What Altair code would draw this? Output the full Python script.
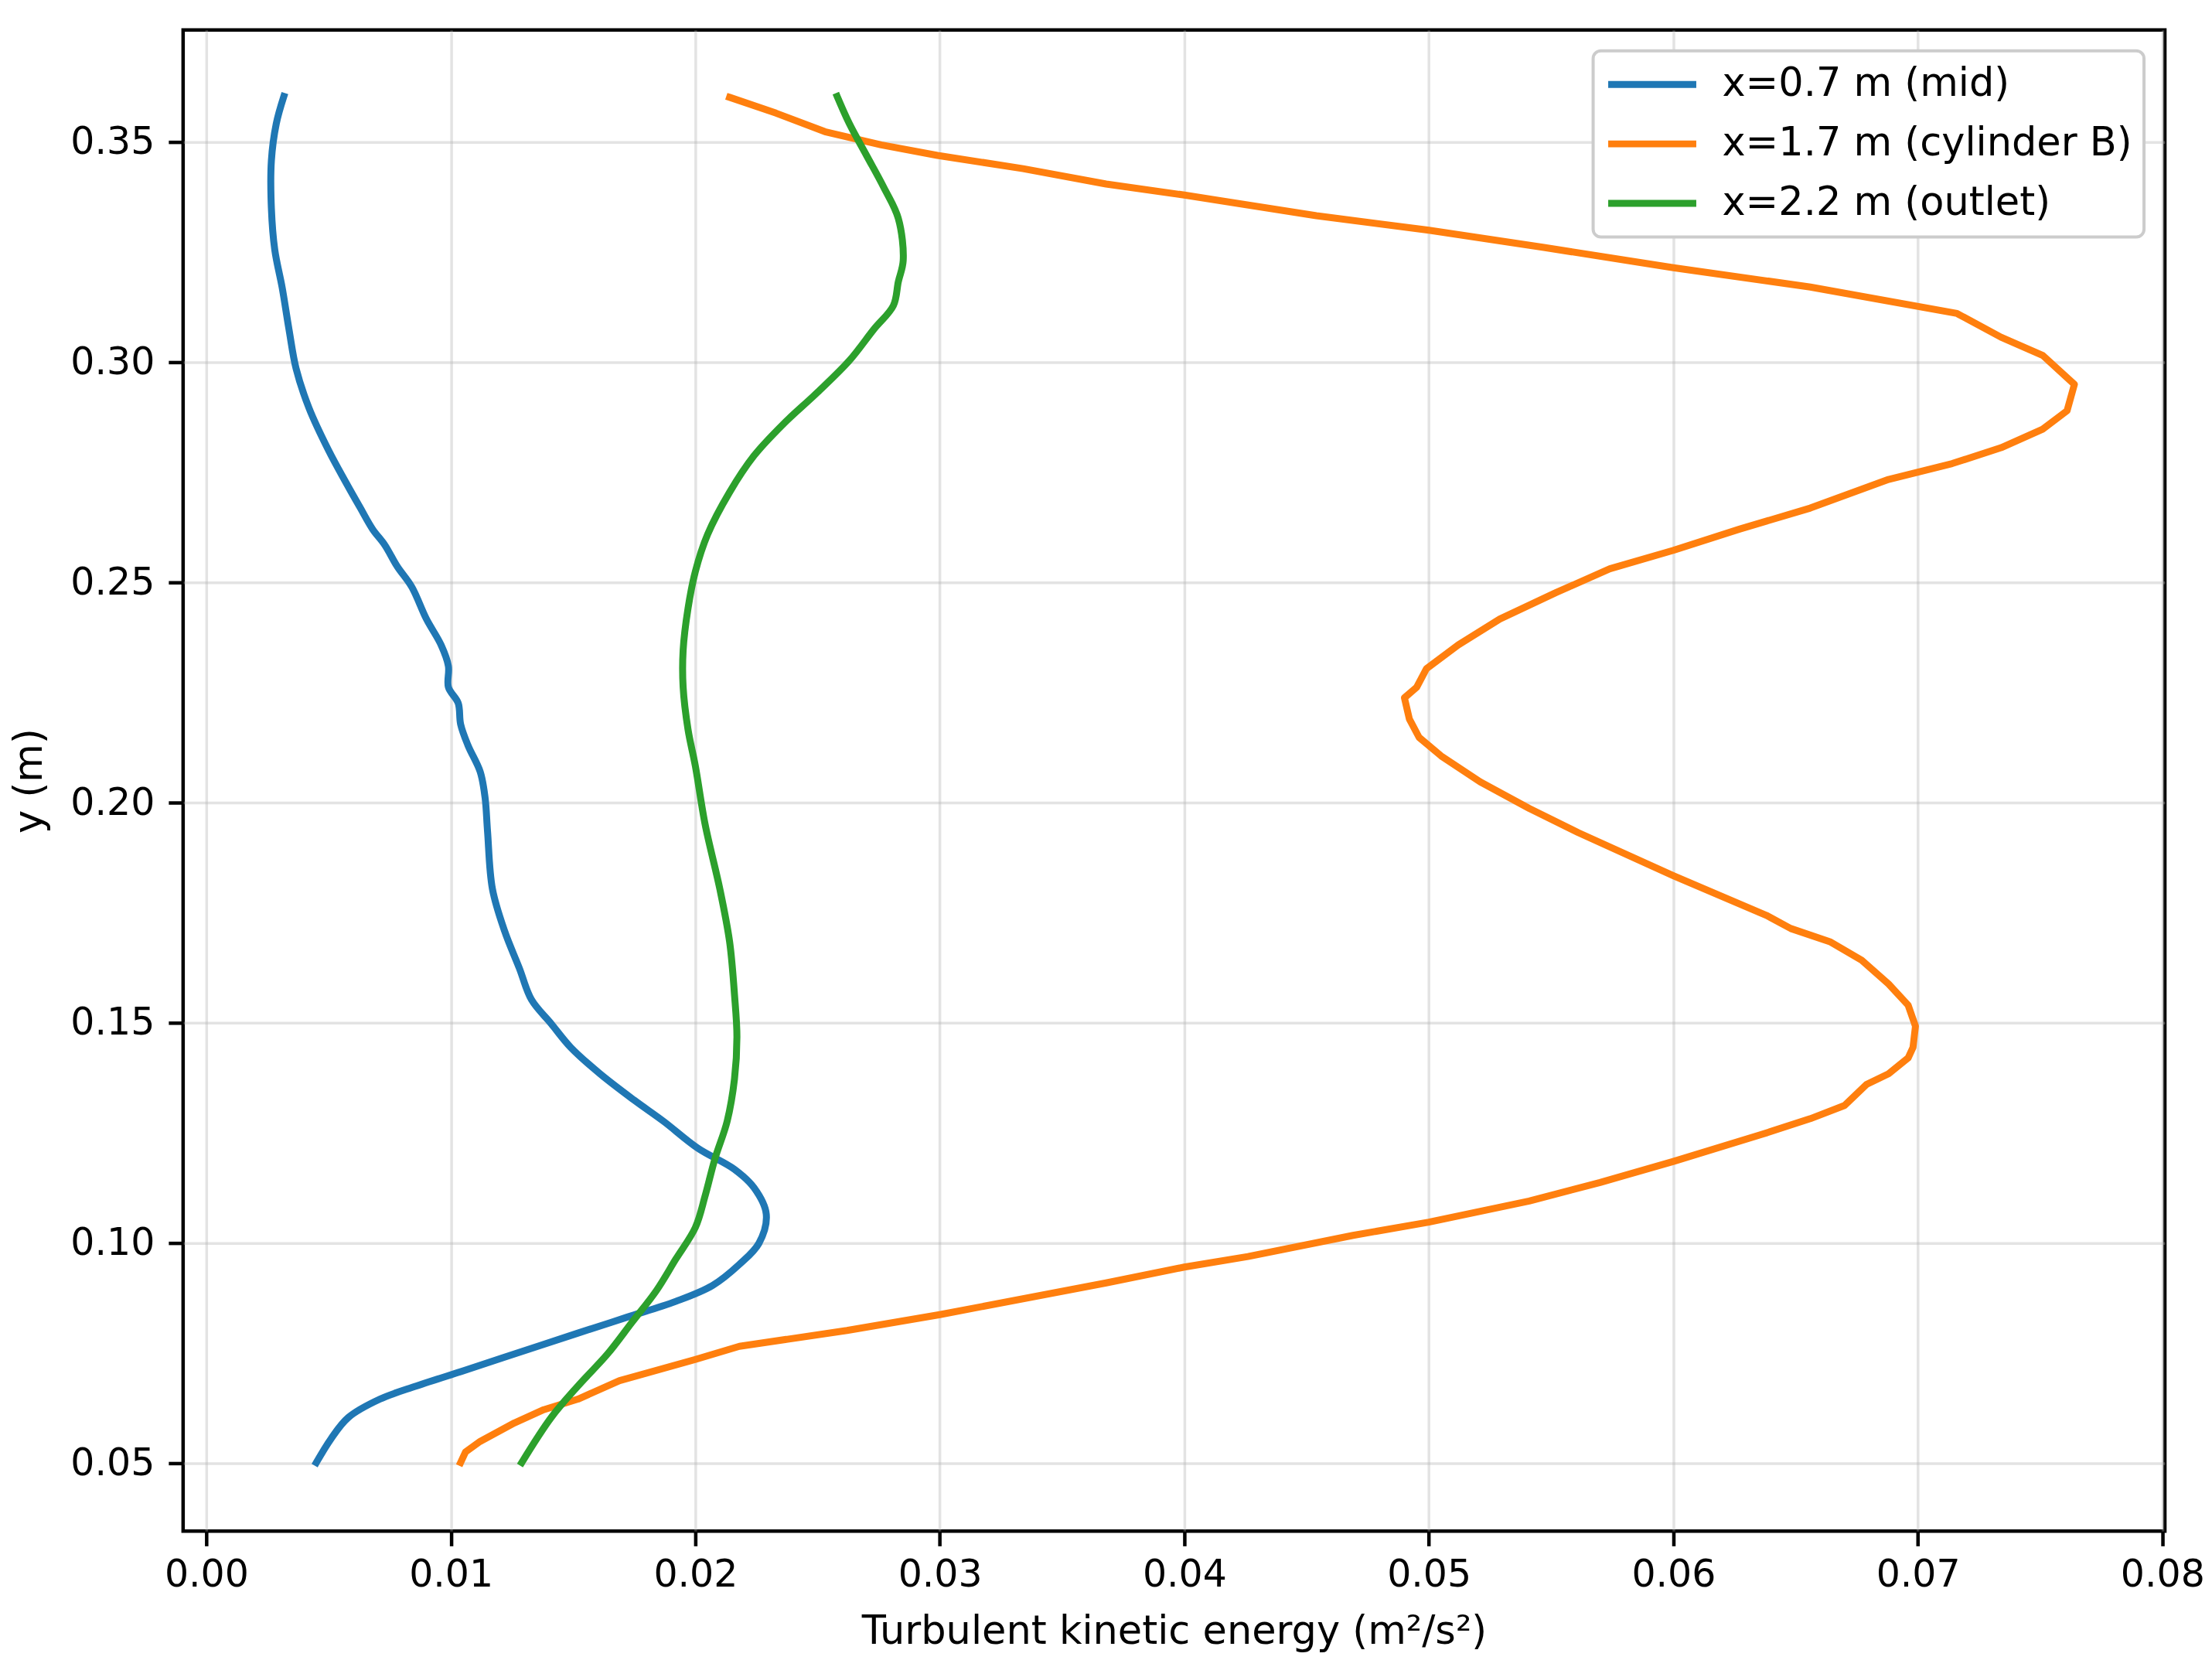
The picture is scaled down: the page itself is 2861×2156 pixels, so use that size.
import altair as alt
import pandas as pd

series_names = ["x=0.7 m (mid)", "x=1.7 m (cylinder B)", "x=2.2 m (outlet)"]
series_colors = ["#1f77b4", "#ff7f0e", "#2ca02c"]

mid_k = [0.00317, 0.00286, 0.00266, 0.00266, 0.0028, 0.0031, 0.00338, 0.00367, 0.0042, 0.005,
         0.0057, 0.0063, 0.0068, 0.0073, 0.0078, 0.0084, 0.009, 0.0096, 0.0099, 0.0099,
         0.0103, 0.0104, 0.0107, 0.0112, 0.0114, 0.0115, 0.0117, 0.0122, 0.0128, 0.0133,
         0.0141, 0.0149, 0.0161, 0.0175, 0.0187, 0.0201, 0.0216, 0.0224, 0.0229, 0.0226,
         0.0218, 0.0207, 0.0192, 0.0172, 0.0152, 0.0129, 0.0106, 0.0086, 0.0071, 0.0058,
         0.0051, 0.0045]
mid_y = [0.3604, 0.3542, 0.3458, 0.335, 0.3255, 0.317, 0.3075, 0.2986, 0.2896, 0.28,
         0.2728, 0.2669, 0.2621, 0.2585, 0.2537, 0.249, 0.2417, 0.2358, 0.231, 0.2262,
         0.2226, 0.2178, 0.213, 0.207, 0.2011, 0.1935, 0.1804, 0.1708, 0.1624, 0.1552,
         0.1498, 0.1444, 0.1384, 0.1324, 0.1276, 0.1215, 0.1167, 0.1125, 0.1065, 0.0999,
         0.0951, 0.0903, 0.0867, 0.0831, 0.0795, 0.0753, 0.0711, 0.0675, 0.0645, 0.0603,
         0.0555, 0.0501]

cyl_k = [0.0214, 0.0233, 0.0253, 0.0276, 0.0299, 0.0334, 0.0368, 0.04, 0.0454, 0.05,
         0.0547, 0.06, 0.0656, 0.0716, 0.0734, 0.0751, 0.0764, 0.0761, 0.0751, 0.0734,
         0.0714, 0.0688, 0.0656, 0.0627, 0.06, 0.0574, 0.0552, 0.0529, 0.0512, 0.0499,
         0.0495, 0.049, 0.0492, 0.0496, 0.0505, 0.0521, 0.0541, 0.0561, 0.06, 0.0638,
         0.0648, 0.0664, 0.0677, 0.0688, 0.0696, 0.0699, 0.0698, 0.0696, 0.0688, 0.0679,
         0.067, 0.0656, 0.0636, 0.06, 0.057, 0.0541, 0.05, 0.0469, 0.0426, 0.04,
         0.0368, 0.03, 0.0262, 0.0218, 0.02, 0.0169, 0.0152, 0.0138, 0.0126, 0.0112,
         0.0106, 0.0104]
cyl_y = [0.3602, 0.3566, 0.3524, 0.3494, 0.347, 0.344, 0.3405, 0.338, 0.3333, 0.33,
         0.3261, 0.3215, 0.3171, 0.3111, 0.3057, 0.3016, 0.295, 0.289, 0.2848, 0.2806,
         0.277, 0.2734, 0.2669, 0.2621, 0.2573, 0.2531, 0.2477, 0.2417, 0.2358, 0.2304,
         0.2262, 0.2238, 0.219, 0.2148, 0.2106, 0.2047, 0.1987, 0.1932, 0.1834, 0.1744,
         0.1714, 0.1684, 0.1642, 0.1588, 0.154, 0.1492, 0.1444, 0.142, 0.1384, 0.136,
         0.1312, 0.1282, 0.1246, 0.1185, 0.1137, 0.1095, 0.1047, 0.1017, 0.0969, 0.0945,
         0.0909, 0.0837, 0.0801, 0.0765, 0.0735, 0.0687, 0.0645, 0.0621, 0.0591, 0.0549,
         0.0525, 0.0501]

out_k = [0.0258, 0.0263, 0.027, 0.0277, 0.0283, 0.0285, 0.0283, 0.0281, 0.0273, 0.0263,
         0.025, 0.0236, 0.0224, 0.0214, 0.0205, 0.02, 0.0197, 0.0195, 0.0195, 0.0197,
         0.02, 0.0204, 0.021, 0.0214, 0.0216, 0.0217, 0.0216, 0.0213, 0.0208, 0.0204,
         0.02, 0.0192, 0.0184, 0.0174, 0.0164, 0.0152, 0.0141, 0.0129]
out_y = [0.3604, 0.3542, 0.347, 0.3398, 0.3327, 0.3231, 0.3183, 0.3129, 0.3075, 0.3004,
         0.2932, 0.286, 0.2788, 0.2705, 0.2609, 0.2525, 0.2441, 0.2346, 0.2262, 0.2166,
         0.2083, 0.195, 0.1804, 0.1684, 0.1564, 0.1468, 0.1372, 0.1276, 0.1191, 0.1107,
         0.1035, 0.0963, 0.0891, 0.0819, 0.0747, 0.0675, 0.0603, 0.0501]

x_ticks = [0.00, 0.01, 0.02, 0.03, 0.04, 0.05, 0.06, 0.07, 0.08]
y_ticks = [0.05, 0.10, 0.15, 0.20, 0.25, 0.30, 0.35]
x_domain = [-0.00095, 0.0801]
y_domain = [0.0345, 0.3755]

rows = []
for name, ks, ys in zip(series_names, [mid_k, cyl_k, out_k], [mid_y, cyl_y, out_y]):
    for i, (k, y) in enumerate(zip(ks, ys)):
        rows.append({"series": name, "k": k, "y": y, "i": i})
df = pd.DataFrame(rows)

FONT = "DejaVu Sans"
TICK_FS = 49
TITLE_FS = 51
LW = 9

base = alt.Chart(df).encode(
    x=alt.X("k:Q",
            scale=alt.Scale(domain=x_domain, nice=False, zero=False),
            axis=alt.Axis(values=x_ticks, format=".2f",
                          title="Turbulent kinetic energy (m²/s²)",
                          labelPadding=13, titlePadding=24)),
    y=alt.Y("y:Q",
            scale=alt.Scale(domain=y_domain, nice=False, zero=False),
            axis=alt.Axis(values=y_ticks, format=".2f", title="y (m)",
                          labelPadding=18, titlePadding=26)),
    color=alt.Color("series:N",
                    scale=alt.Scale(domain=series_names, range=series_colors),
                    legend=alt.Legend(orient="none", legendX=1825, legendY=27, title=None,
                                      symbolType="stroke", symbolSize=12996,
                                      symbolStrokeWidth=LW, labelFontSize=TITLE_FS,
                                      labelFont=FONT, labelColor="black", labelOffset=29,
                                      labelLimit=900, clipHeight=57, rowPadding=20,
                                      padding=15, fillColor="white", strokeColor="#cccccc",
                                      cornerRadius=10)),
    order=alt.Order("i:Q"),
)

lines = []
for name, interp in zip(series_names, ["catmull-rom", "linear", "catmull-rom"]):
    lines.append(
        base.transform_filter(alt.datum.series == name)
        .mark_line(strokeWidth=LW, strokeCap="square", strokeJoin="round", interpolate=interp)
    )

chart = alt.layer(*lines).properties(
    width=2565,
    height=1943,
    autosize=alt.AutoSizeParams(type="none"),
    padding={"left": 229, "top": 30, "right": 53, "bottom": 167},
).configure_view(
    stroke="black", strokeWidth=4.5
).configure_axis(
    labelFont=FONT, titleFont=FONT, labelFontSize=TICK_FS, titleFontSize=TITLE_FS,
    labelColor="black", titleColor="black", titleFontWeight="normal",
    tickSize=19, tickWidth=4.5, tickColor="black", domain=False,
    grid=True, gridColor="#b0b0b0", gridOpacity=0.35, gridWidth=3.5,
).configure_legend(
    strokeWidth=4
)

chart.save("out.html", embed_options={"renderer": "svg", "actions": False})
